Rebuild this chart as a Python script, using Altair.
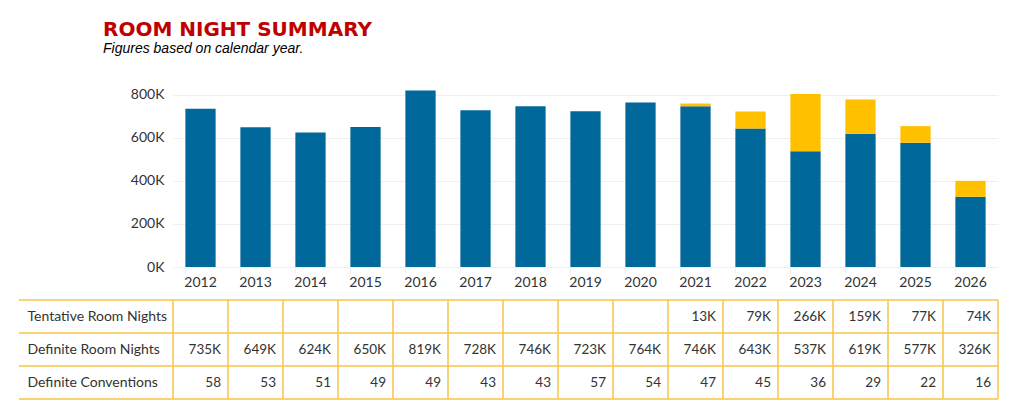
import altair as alt
import pandas as pd

years = [str(y) for y in range(2012, 2027)]
definite_k = [735, 649, 624, 650, 819, 728, 746, 723, 764, 746, 643, 537, 619, 577, 326]
tentative_k = [None, None, None, None, None, None, None, None, None, 13, 79, 266, 159, 77, 74]
conventions = [58, 53, 51, 49, 49, 43, 43, 57, 54, 47, 45, 36, 29, 22, 16]
row_labels = ["Tentative Room Nights", "Definite Room Nights", "Definite Conventions"]

BLUE = "#00689a"
GOLD = "#ffc000"
LINE = "#f7c646"
TXT = "#333333"
FONT = "Lato"

# ---- bar data
bar_rows = []
for y, d, t in zip(years, definite_k, tentative_k):
    bar_rows.append({"year": y, "type": "Definite", "value": d * 1000, "ord": 0})
    if t is not None:
        bar_rows.append({"year": y, "type": "Tentative", "value": t * 1000, "ord": 1})
bars_df = pd.DataFrame(bar_rows)

xband_bar = alt.Scale(domain=years, paddingInner=0.45, paddingOuter=0.225)

bars = alt.Chart(bars_df).mark_bar().encode(
    x=alt.X("year:O", scale=xband_bar, title=None,
            axis=alt.Axis(labelAngle=0, ticks=False, domain=False, labelPadding=8,
                          labelFontSize=14, labelColor=TXT, labelFont=FONT)),
    y=alt.Y("value:Q", stack="zero", title=None,
            scale=alt.Scale(domain=[0, 840400], nice=False),
            axis=alt.Axis(values=[0, 200000, 400000, 600000, 800000],
                          labelExpr="format(datum.value/1000, 'd') + 'K'",
                          ticks=False, domain=False, labelPadding=9,
                          labelFontSize=14, labelColor=TXT, labelFont=FONT,
                          gridColor="#efefef")),
    color=alt.Color("type:N", scale=alt.Scale(domain=["Definite", "Tentative"], range=[BLUE, GOLD]),
                    legend=None),
    order=alt.Order("ord:Q"),
)

sep_df = pd.DataFrame({"year": years})
seps = alt.Chart(sep_df).mark_rule(color="#eeeeee").encode(
    x=alt.X("year:O", scale=xband_bar, bandPosition=0),
    y=alt.value(181), y2=alt.value(188),
)

bar_chart = alt.layer(bars, seps).properties(width=825, height=181)

# ---- table data
def fmt_k(v):
    return "" if v is None else f"{v}K"

cells = []
for y, t, d, c in zip(years, tentative_k, definite_k, conventions):
    cells.append({"year": y, "row": row_labels[0], "txt": fmt_k(t)})
    cells.append({"year": y, "row": row_labels[1], "txt": fmt_k(d)})
    cells.append({"year": y, "row": row_labels[2], "txt": str(c)})
cells_df = pd.DataFrame(cells)

xband_tab = alt.Scale(domain=years, paddingInner=0, paddingOuter=0)
yband_tab = alt.Scale(domain=row_labels, paddingInner=0, paddingOuter=0)

tab_text = alt.Chart(cells_df).mark_text(align="right", baseline="middle", dx=-7,
                                         fontSize=13.5, font=FONT, color=TXT).encode(
    x=alt.X("year:O", scale=xband_tab, bandPosition=1, axis=None),
    y=alt.Y("row:N", scale=yband_tab, title=None, sort=row_labels,
            axis=alt.Axis(labelAlign="left", labelPadding=146, ticks=False, domain=False,
                          labelFontSize=14, labelFont=FONT, labelColor=TXT, labelBaseline="middle")),
    text="txt:N",
)

vlines = alt.Chart(sep_df).mark_rule(color=LINE, strokeWidth=1.5).encode(
    x=alt.X("year:O", scale=xband_tab, bandPosition=0),
    y=alt.value(0), y2=alt.value(99),
)
vline_end = alt.Chart(sep_df.head(1)).mark_rule(color=LINE, strokeWidth=1.5).encode(
    x=alt.value(825), y=alt.value(0), y2=alt.value(99),
)
rows_df = pd.DataFrame({"row": row_labels})
hlines = alt.Chart(rows_df).mark_rule(color=LINE, strokeWidth=1.5).encode(
    y=alt.Y("row:N", scale=yband_tab, sort=row_labels, bandPosition=0),
    x=alt.value(-154), x2=alt.value(825),
)
hline_end = alt.Chart(rows_df.head(1)).mark_rule(color=LINE, strokeWidth=1.5).encode(
    y=alt.value(99), x=alt.value(-154), x2=alt.value(825),
)

table_chart = alt.layer(tab_text, vlines, vline_end, hlines, hline_end).properties(width=825, height=99)

chart = alt.vconcat(bar_chart, table_chart, spacing=10).properties(
    title=alt.TitleParams(
        text="ROOM NIGHT SUMMARY",
        subtitle="Figures based on calendar year.",
        anchor="start", frame="group", dx=-70, offset=30,
        font="DejaVu Sans", fontSize=20, fontWeight="bold", color="#c00000",
        subtitleFont="Liberation Sans", subtitleFontSize=14, subtitleFontStyle="italic",
        subtitleColor="#000000", subtitlePadding=2,
    ),
    padding={"left": 10, "top": 12, "right": 5, "bottom": 5},
).configure_view(stroke=None)

chart.save("out.html", embed_options={"renderer": "svg", "actions": False})
